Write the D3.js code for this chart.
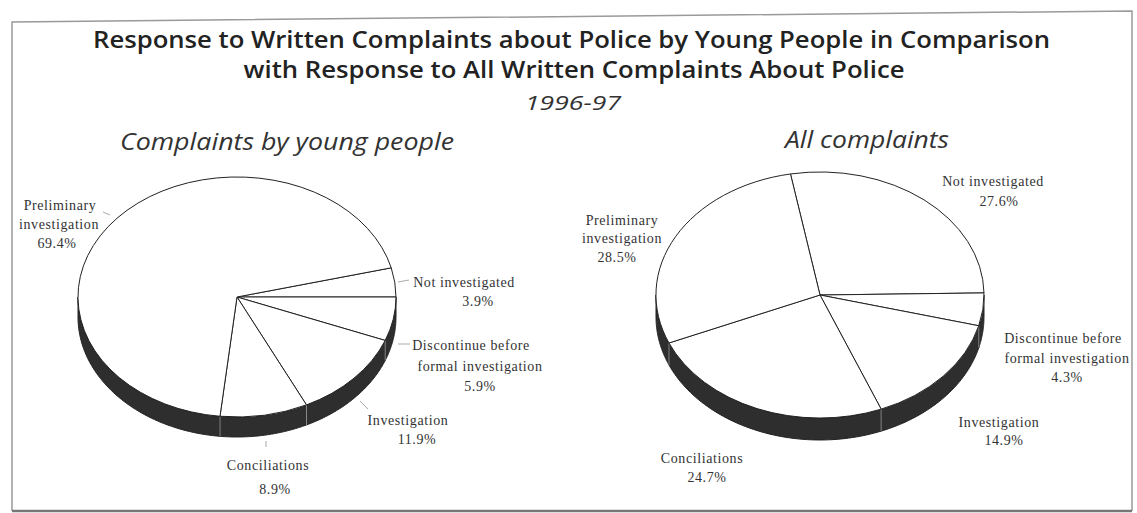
<!DOCTYPE html>
<html><head><meta charset="utf-8">
<script src="https://cdn.jsdelivr.net/npm/d3@7"></script>
<style>
html,body{margin:0;padding:0;background:#fff;}
svg{display:block;}
</style></head><body>
<svg id="chart" width="1137" height="513"></svg>
<script>
// ---- data ----
const categories = ["Not investigated","Discontinue before formal investigation","Investigation","Conciliations","Preliminary investigation"];
const categoryLabelLines = [["Not investigated"],["Discontinue before","formal investigation"],["Investigation"],["Conciliations"],["Preliminary","investigation"]];
const youngPeopleValues = [3.9, 5.9, 11.9, 8.9, 69.4];
const allComplaintsValues = [27.6, 4.3, 14.9, 24.7, 28.5];
const titleLines = ["Response to Written Complaints about Police by Young People in Comparison","with Response to All Written Complaints About Police"];
const periodLabel = "1996-97";
const pieTitles = ["Complaints by young people","All complaints"];

// ---- layout ----
const pies = [
  {title: pieTitles[0], values: youngPeopleValues, cx:237, cy:297, rx:159, ry:120, depth:20, boundaryDeg:0,
   titlePos:[287,150,334],
   labelPos:[[[464,287],[478,306]],[[471,350],[480,371],[480,391]],[[408,425],[417,444]],[[268,470],[275,494]],[[60,210],[59,229],[57,248]]],
   leaders:[[398,282,409,280],[398,344,410,344],[360,401,368,409],[266,441,266,447],[103,212,110,215]]},
  {title: pieTitles[1], values: allComplaintsValues, cx:820, cy:295, rx:164, ry:123, depth:22, boundaryDeg:1,
   titlePos:[867,148,164],
   labelPos:[[[993,186],[999,206]],[[1063,343],[1067,363],[1067,382]],[[999,427],[1004,445]],[[702,463],[707,482]],[[622,225],[622,243],[617,262]]],
   leaders:[]}
];

const svg = d3.select("#chart");
svg.append("rect").attr("width",1137).attr("height",513).attr("fill","#fff");

// frame (scanned page border)
svg.append("path").attr("d","M12,511 L12,22 L1132,11 L1132,511")
  .attr("fill","none").attr("stroke","#9a9a9a").attr("stroke-width",1.5);
svg.append("line").attr("x1",12).attr("x2",1132).attr("y1",511).attr("y2",511)
  .attr("stroke","#777").attr("stroke-width",2.5);

// titles
const titleFont = "'Open Sans', sans-serif";
const titleSpecs = [{x:571.5,y:48,len:957},{x:574,y:78,len:661}];
titleLines.forEach((t,i)=>{
  svg.append("text").attr("x",titleSpecs[i].x).attr("y",titleSpecs[i].y)
    .attr("text-anchor","middle").attr("font-family",titleFont).attr("font-weight",600)
    .attr("font-size",23).attr("fill","#222")
    .attr("textLength",titleSpecs[i].len).attr("lengthAdjust","spacingAndGlyphs").text(t);
});
svg.append("text").attr("x",573).attr("y",110).attr("text-anchor","middle")
  .attr("font-family",titleFont).attr("font-style","italic").attr("font-size",20)
  .attr("fill","#333").attr("textLength",96).attr("lengthAdjust","spacingAndGlyphs").text(periodLabel);

const arcUnit = d3.arc().innerRadius(0).outerRadius(1);
const fmt = v => d3.format(".1f")(v) + "%";

pies.forEach(p=>{
  // subtitle
  svg.append("text").attr("x",p.titlePos[0]).attr("y",p.titlePos[1]).attr("text-anchor","middle")
    .attr("font-family",titleFont).attr("font-style","italic").attr("font-size",23).attr("fill","#333")
    .attr("textLength",p.titlePos[2]).attr("lengthAdjust","spacingAndGlyphs").text(p.title);

  const total = d3.sum(p.values);
  const endFirst = (90 - p.boundaryDeg) * Math.PI/180;
  const start = endFirst - p.values[0]/total*2*Math.PI;
  const arcs = d3.pie().sort(null).value(d=>d).startAngle(start).endAngle(start+2*Math.PI)(p.values);

  const pt = (a, dy=0) => [p.cx + p.rx*Math.sin(a), p.cy - p.ry*Math.cos(a) + dy];
  const g = svg.append("g");

  // side walls (visible where the rim faces the viewer)
  const sideSegs = [];
  arcs.forEach(d=>{
    for (let k=-1;k<=2;k++){
      const lo = Math.PI/2 + 2*Math.PI*k, hi = 3*Math.PI/2 + 2*Math.PI*k;
      const a1 = Math.max(d.startAngle, lo), a2 = Math.min(d.endAngle, hi);
      if (a2 > a1) sideSegs.push([a1,a2]);
    }
  });
  sideSegs.forEach(([a1,a2])=>{
    const n = 60;
    const top = d3.range(n+1).map(i=>pt(a1+(a2-a1)*i/n));
    const bot = d3.range(n+1).map(i=>pt(a2-(a2-a1)*i/n, p.depth));
    g.append("path").attr("d", d3.line()(top.concat(bot)) + "Z")
      .attr("fill","#2e2e2e").attr("stroke","#222").attr("stroke-width",1);
  });
  // boundary edges on the side wall
  arcs.forEach(d=>{
    const a = d.startAngle;
    const am = ((a % (2*Math.PI)) + 2*Math.PI) % (2*Math.PI);
    if (am > Math.PI/2 + 0.05 && am < 3*Math.PI/2 - 0.05){
      const [x,y] = pt(a);
      g.append("line").attr("x1",x).attr("x2",x).attr("y1",y).attr("y2",y+p.depth)
        .attr("stroke","#888").attr("stroke-width",1);
    }
  });

  // top face
  const top = g.append("g").attr("transform",`translate(${p.cx},${p.cy}) scale(${p.rx},${p.ry})`);
  top.selectAll("path").data(arcs).join("path")
    .attr("d", arcUnit).attr("fill","#fff").attr("stroke","#222")
    .attr("stroke-width",1).attr("vector-effect","non-scaling-stroke");

  // leader lines
  p.leaders.forEach(l=>{
    svg.append("line").attr("x1",l[0]).attr("y1",l[1]).attr("x2",l[2]).attr("y2",l[3])
      .attr("stroke","#aaa").attr("stroke-width",1);
  });

  // labels
  arcs.forEach((d,i)=>{
    const lines = categoryLabelLines[i].concat([fmt(p.values[i])]);
    lines.forEach((t,j)=>{
      const pos = p.labelPos[i][j];
      svg.append("text").attr("x",pos[0]).attr("y",pos[1]).attr("text-anchor","middle")
        .attr("font-family","'Liberation Serif', 'Times New Roman', serif").attr("font-size",14)
        .attr("letter-spacing","0.6px").attr("fill","#333").text(t);
    });
  });
});
</script>
</body></html>
